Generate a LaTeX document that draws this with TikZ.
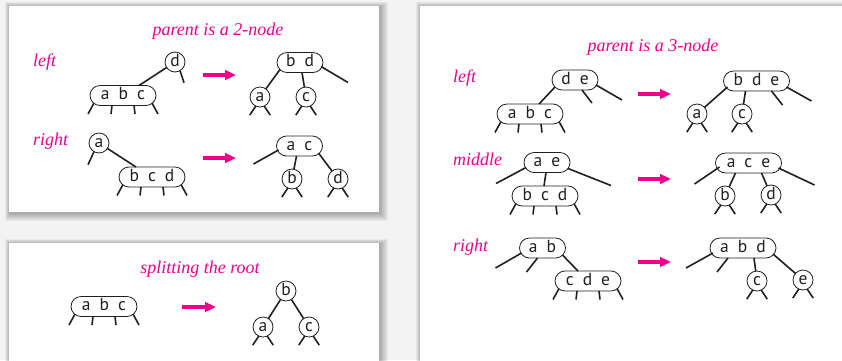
\documentclass[tikz,border=0pt]{standalone}
\usepackage{fontspec}
\setmainfont{Liberation Serif}
\newfontfamily\keyfont{PT Sans}
\usetikzlibrary{calc,arrows.meta}
\definecolor{pinkish}{HTML}{EC008C}
\definecolor{ink}{HTML}{231F20}
\definecolor{bg}{HTML}{F3F3F3}
\newcommand\ksep{\hspace{9pt}}
\newcommand\threestubs[1]{%
 \draw[edge] ($(#1)+(-29,7.5)$) -- ++(-6,11) coordinate (#1-s1);
 \draw[edge] ($(#1)+(-11,10)$) -- ++(-1,8.5) coordinate (#1-s2);
 \draw[edge] ($(#1)+(11,10)$) -- ++(1,8.5) coordinate (#1-s3);
 \draw[edge] ($(#1)+(29,7.5)$) -- ++(6,11) coordinate (#1-s4);}
\newcommand\circstubs[1]{%
 \draw[edge] (#1.245) -- ++(-6,9) coordinate (#1-sl);
 \draw[edge] (#1.295) -- ++(6,9) coordinate (#1-sr);}
\newcommand\panel[4]{%
 \foreach \k in {1,...,8}{\fill[black,opacity=0.04] ({#1-\k*0.6+1},{#2-\k*0.6+1}) rectangle ({#3+\k+1},{#4+\k+1});}
 \fill[white] (#1,#2) rectangle (#3,#4);}
\tikzset{
 edge/.style={draw=ink, line width=1.6pt},
 keynode/.style={draw=ink, line width=0.8pt, fill=white, font=\keyfont\fontsize{17.5}{17.5}\selectfont, text=ink, inner sep=0pt, outer sep=0pt, text height=8.5pt, text depth=0pt, minimum height=20pt},
 circ/.style={keynode, circle, minimum size=20pt},
 boxtwo/.style={keynode, rectangle, rounded corners=10pt, minimum width=46pt},
 boxthree/.style={keynode, rectangle, rounded corners=10pt, minimum width=66pt},
 ttl/.style={font=\itshape\fontsize{18}{18}\selectfont, text=pinkish, inner sep=0pt, anchor=base},
 lbl/.style={ttl, anchor=base west},
 pinkarrow/.style={draw=pinkish, line width=3.8pt, -{Triangle[length=11pt,width=9.5pt]}},
}
\begin{document}
\begin{tikzpicture}[x=1pt,y=-1pt]
\useasboundingbox (0,0) rectangle (842,360);
\clip (0,0) rectangle (842,360);
\fill[bg] (0,0) rectangle (842,360);
\panel{9}{6}{379}{212}
\panel{9}{243}{379}{380}
\panel{420}{6}{860}{380}

% ---------- panel 1: parent is a 2-node
\node[ttl] (t1) at (218,35) {parent is a 2-node};
\node[lbl] (l1) at (33,66) {left};
\node[lbl] (r1) at (33,145.5) {right};

% left, before
\node[circ] (d1) at (175,62) {d};
\node[boxthree] (abc1) at (123,95.5) {a\ksep b\ksep c};
\draw[edge] (d1) -- ($(abc1)+(16,-10)$);
\draw[edge] (d1.-60) -- ++(4,12) coordinate (d1-sr);
\threestubs{abc1}
\coordinate (a1s) at (203,75); \coordinate (a1e) at (236,75);
\draw[pinkarrow] (a1s) -- (a1e);
% left, after
\node[boxtwo] (bd1) at (300,62.5) {b\ksep d};
\node[circ] (a1) at (260,97) {a};
\node[circ] (c1) at (306,97) {c};
\draw[edge] ($(bd1)+(-20,7)$) -- (a1);
\draw[edge] ($(bd1)+(2,10)$) -- (c1);
\draw[edge] ($(bd1)+(21,4)$) -- ++(27,16) coordinate (bd1-sr);
\circstubs{a1}
\circstubs{c1}

% right, before
\node[circ] (a2) at (99,143) {a};
\node[boxthree] (bcd2) at (152,177) {b\ksep c\ksep d};
\draw[edge] (a2.240) -- ++(-6,13) coordinate (a2-sl);
\draw[edge] (a2) -- ($(bcd2)+(-16,-10)$);
\threestubs{bcd2}
\coordinate (a2s) at (203,158); \coordinate (a2e) at (236,158);
\draw[pinkarrow] (a2s) -- (a2e);
% right, after
\node[boxtwo] (ac2) at (299.5,146) {a\ksep c};
\node[circ] (b2) at (292,179) {b};
\node[circ] (d2) at (338,179) {d};
\draw[edge] ($(ac2)+(-21,4)$) -- ++(-25,14) coordinate (ac2-sl);
\draw[edge] ($(ac2)+(-3,10)$) -- (b2);
\draw[edge] ($(ac2)+(19,7)$) -- (d2);
\circstubs{b2}
\circstubs{d2}

% ---------- panel 2: splitting the root
\node[ttl] (t2) at (200,273) {splitting the root};
\node[boxthree] (abc3) at (104,306.5) {a\ksep b\ksep c};
\threestubs{abc3}
\coordinate (a3s) at (182,307); \coordinate (a3e) at (216,307);
\draw[pinkarrow] (a3s) -- (a3e);
\node[circ] (b3) at (286,291) {b};
\node[circ] (a3) at (263,327) {a};
\node[circ] (c3) at (309,327) {c};
\draw[edge] (b3) -- (a3);
\draw[edge] (b3) -- (c3);
\circstubs{a3}
\circstubs{c3}

% ---------- panel 3: parent is a 3-node
\node[ttl] (t3) at (653,51) {parent is a 3-node};
\node[lbl] (l4) at (453,82.5) {left};
\node[lbl] (m5) at (453,165.5) {middle};
\node[lbl] (r6) at (453,251.5) {right};

% left, before
\node[boxtwo] (de4) at (575,80) {d\ksep e};
\node[boxthree] (abc4) at (530,114) {a\ksep b\ksep c};
\draw[edge] ($(de4)+(-20,7)$) -- ($(abc4)+(9,-10)$);
\draw[edge] ($(de4)+(7,10)$) -- ++(10,13) coordinate (de4-sm);
\draw[edge] ($(de4)+(21,5)$) -- ++(26,15) coordinate (de4-sr);
\threestubs{abc4}
\coordinate (a4s) at (638,94); \coordinate (a4e) at (671,94);
\draw[pinkarrow] (a4s) -- (a4e);
% left, after
\node[boxthree] (bde4) at (756.5,81) {b\ksep d\ksep e};
\node[circ] (a4) at (697,114) {a};
\node[circ] (c4) at (742,114) {c};
\draw[edge] ($(bde4)+(-29,6)$) -- (a4);
\draw[edge] ($(bde4)+(-11,10)$) -- (c4);
\draw[edge] ($(bde4)+(15,10)$) -- ++(11,14) coordinate (bde4-s3);
\draw[edge] ($(bde4)+(30,6)$) -- ++(25,14) coordinate (bde4-s4);
\circstubs{a4}
\circstubs{c4}

% middle, before
\node[boxtwo] (ae5) at (547,162.5) {a\ksep e};
\node[boxthree] (bcd5) at (545,196) {b\ksep c\ksep d};
\draw[edge] ($(ae5)+(-21,5)$) -- ++(-30,16) coordinate (ae5-sl);
\draw[edge] ($(ae5)+(-1,10)$) -- ($(bcd5)+(-1,-10)$);
\draw[edge] ($(ae5)+(21,6)$) -- ++(43,17) coordinate (ae5-sr);
\threestubs{bcd5}
\coordinate (a5s) at (638,179); \coordinate (a5e) at (671,179);
\draw[pinkarrow] (a5s) -- (a5e);
% middle, after
\node[boxthree] (ace5) at (748.5,163) {a\ksep c\ksep e};
\node[circ] (b5) at (725,196) {b};
\node[circ] (d5) at (771,195) {d};
\draw[edge] ($(ace5)+(-29,4)$) -- ++(-25,17) coordinate (ace5-sl);
\draw[edge] ($(ace5)+(-13,10)$) -- (b5);
\draw[edge] ($(ace5)+(13,10)$) -- (d5);
\draw[edge] ($(ace5)+(30,5)$) -- ++(36,17) coordinate (ace5-sr);
\circstubs{b5}
\circstubs{d5}

% right, before
\node[boxtwo] (ab6) at (542.5,248) {a\ksep b};
\node[boxthree] (cde6) at (588,281) {c\ksep d\ksep e};
\draw[edge] ($(ab6)+(-21,5)$) -- ++(-26,15) coordinate (ab6-sl);
\draw[edge] ($(ab6)+(-5,10)$) -- ++(-11,14) coordinate (ab6-sm);
\draw[edge] ($(ab6)+(20,7)$) -- ($(cde6)+(-10,-10)$);
\threestubs{cde6}
\coordinate (a6s) at (638,262); \coordinate (a6e) at (671,262);
\draw[pinkarrow] (a6s) -- (a6e);
% right, after
\node[boxthree] (abd6) at (743,248) {a\ksep b\ksep d};
\node[circ] (c6) at (757,281) {c};
\node[circ] (e6) at (803,280) {e};
\draw[edge] ($(abd6)+(-30,5)$) -- ++(-27,15) coordinate (abd6-s1);
\draw[edge] ($(abd6)+(-15,10)$) -- ++(-11,14) coordinate (abd6-s2);
\draw[edge] ($(abd6)+(11,10)$) -- (c6);
\draw[edge] ($(abd6)+(30,6)$) -- (e6);
\circstubs{c6}
\circstubs{e6}
\end{tikzpicture}
\end{document}
